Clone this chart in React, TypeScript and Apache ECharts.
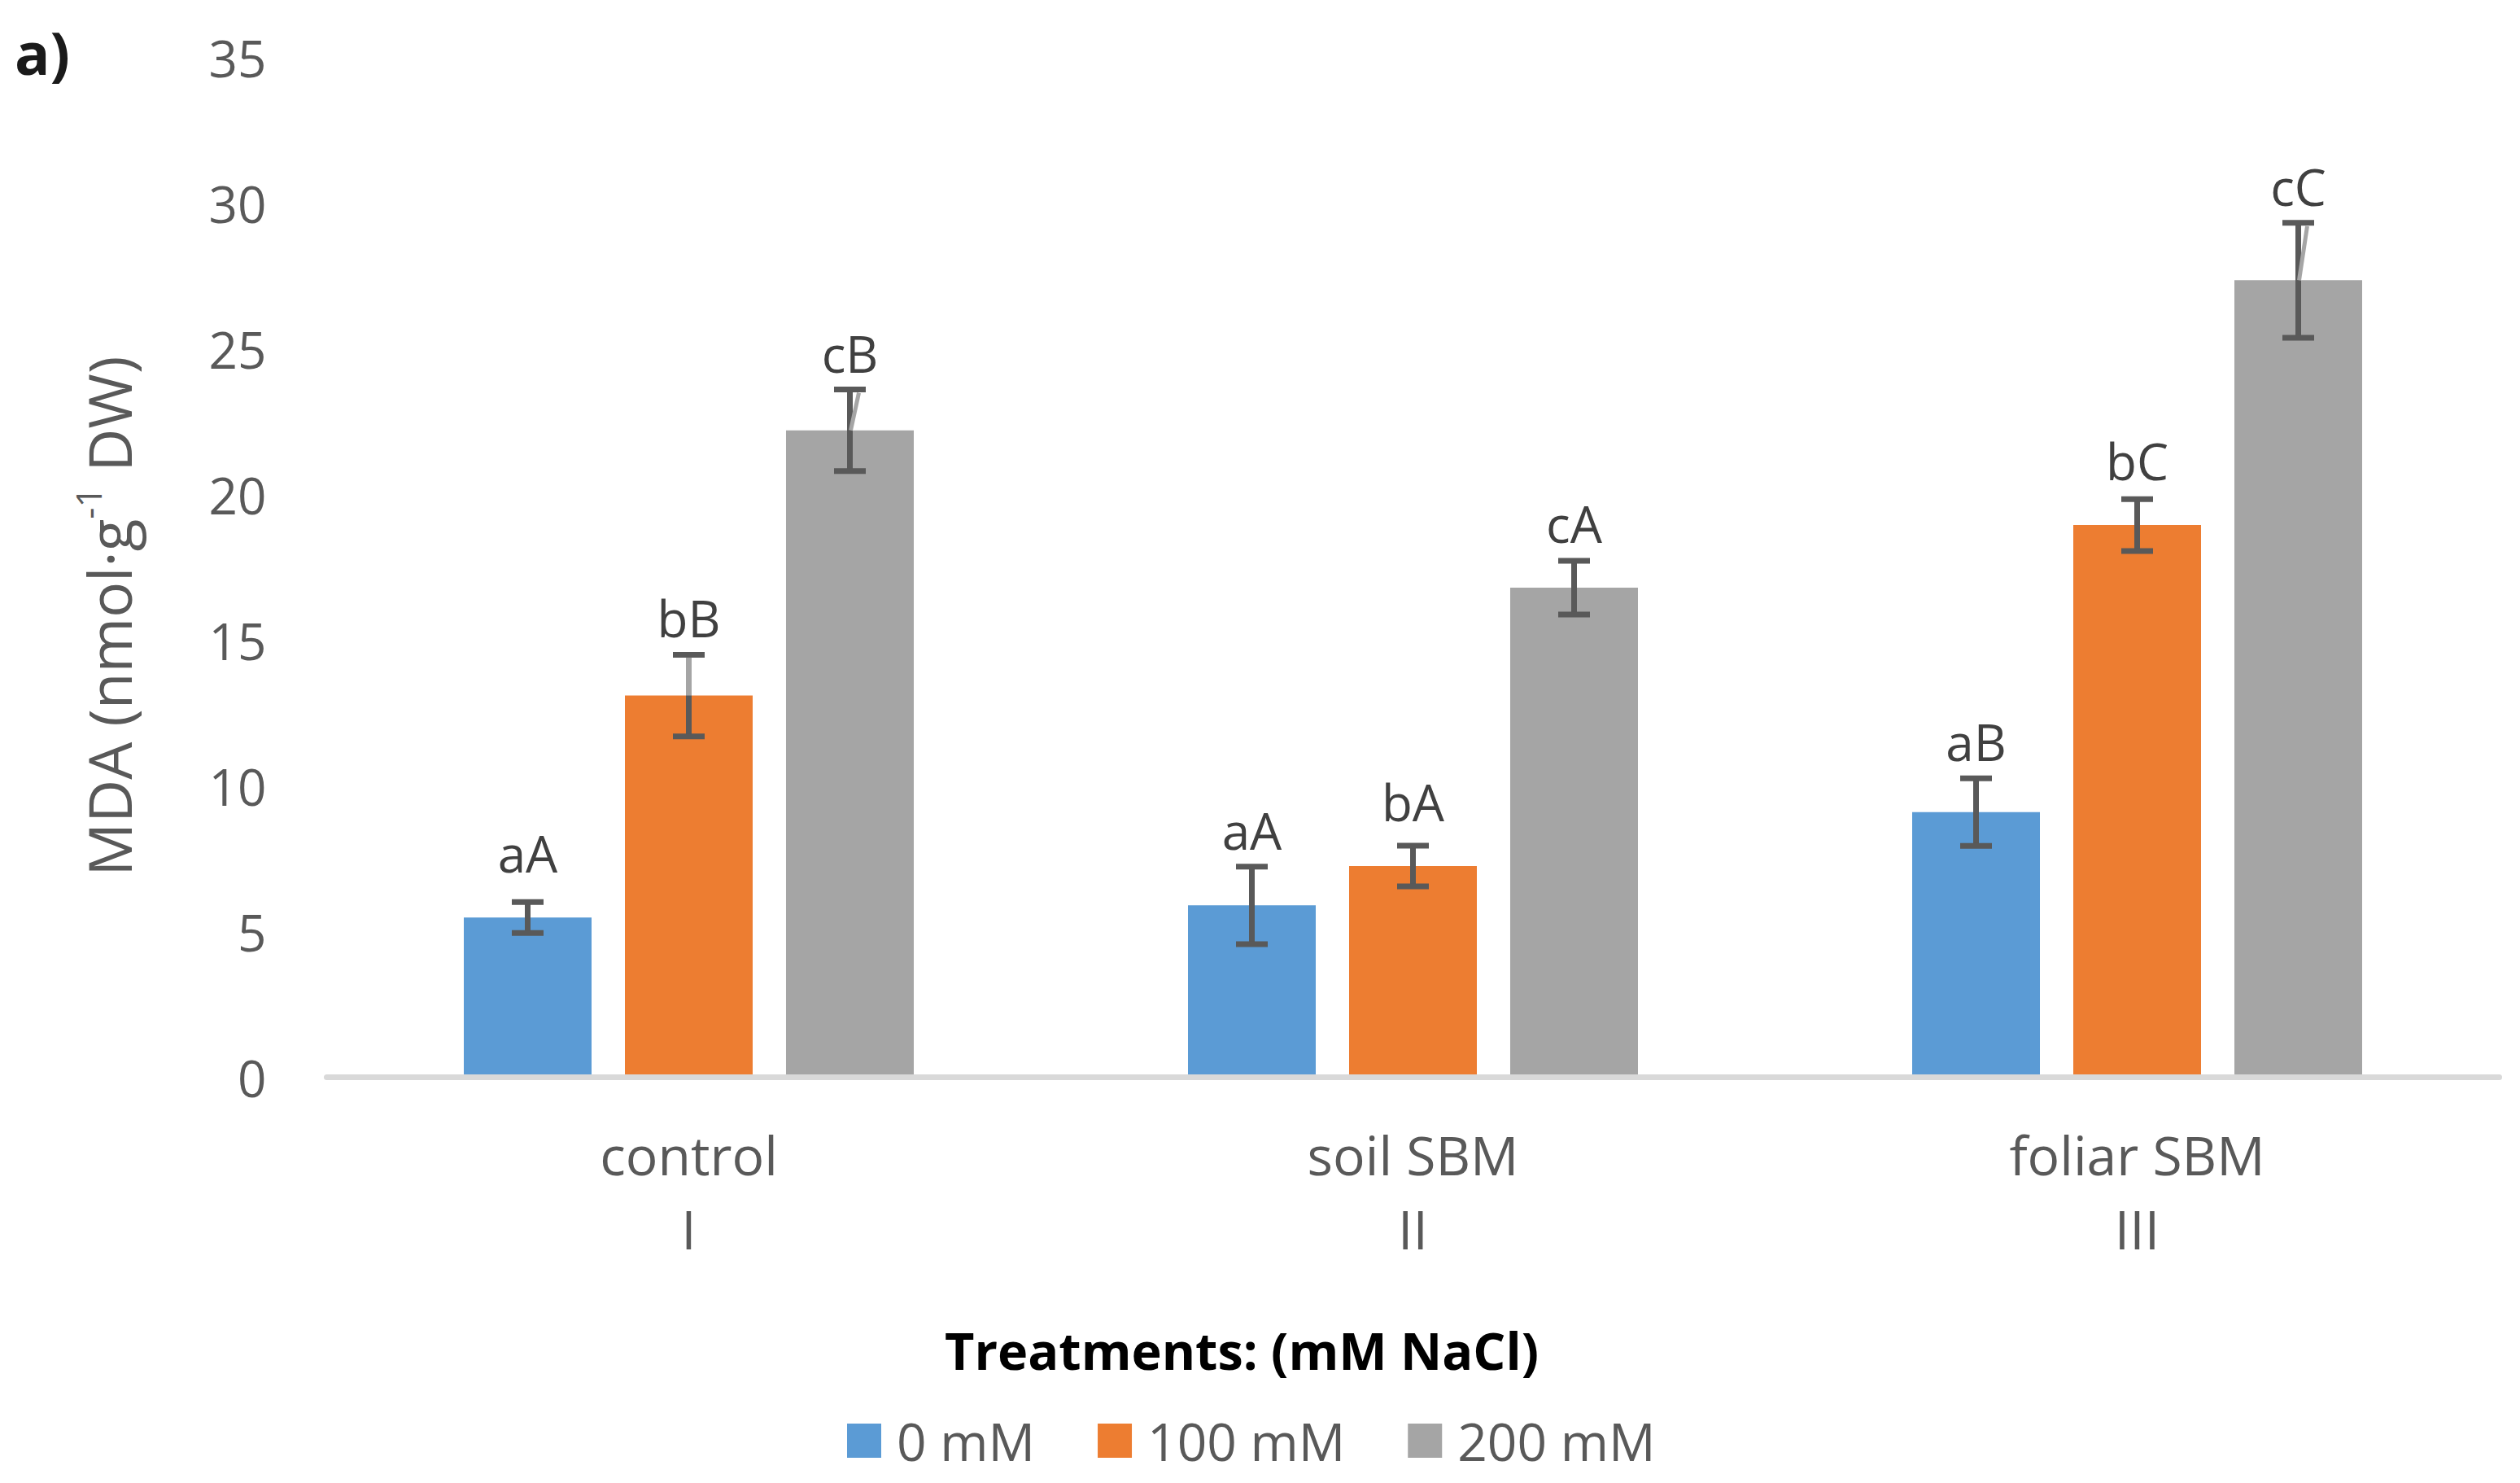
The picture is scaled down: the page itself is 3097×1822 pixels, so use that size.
import React, { useEffect, useRef } from "react";
import * as echarts from "echarts";

// ---- data ----
const categories = ["control\nI", "soil SBM\nII", "foliar SBM\nIII"];
const seriesNames = ["0 mM", "100 mM", "200 mM"];
const mda0 = [5.48, 5.9, 9.1];
const mda100 = [13.1, 7.25, 18.95];
const mda200 = [22.2, 16.8, 27.35];
const err0 = [0.53, 1.33, 1.16];
const err100 = [1.4, 0.7, 0.89];
const err200 = [1.4, 0.92, 1.97];
const letters0 = ["aA", "aA", "aB"];
const letters100 = ["bB", "bA", "bC"];
const letters200 = ["cB", "cA", "cC"];
const stemStyle0 = ["none", "none", "none"];
const stemStyle100 = ["light", "none", "none"];
const stemStyle200 = ["slant", "none", "slant"];
const yMin = 0;
const yMax = 35;
const yStep = 5;

// ---- styles ----
const COLORS = ["#5b9bd5", "#ed7d31", "#a5a5a5"];
const FONT = '"Open Sans", "Noto Sans", sans-serif';
const BAR_W = 157;
const BAR_GAP = 41;
const ERR_COLOR = "#595959";

const means = [mda0, mda100, mda200];
const errs = [err0, err100, err200];
const letters = [letters0, letters100, letters200];
const stemStyles = [stemStyle0, stemStyle100, stemStyle200];

function makeErrSeries(s: number) {
  const k = s - 1;
  return {
    type: "custom",
    name: "err" + s,
    z: 5,
    data: means[s].map((v, i) => [i, v, errs[s][i]]),
    encode: { x: 0, y: 1 },
    renderItem: (params: any, api: any) => {
      const i = api.value(0);
      const m = api.value(1);
      const e = api.value(2);
      const base = api.coord([i, m]);
      const cx = base[0] + k * (BAR_W + BAR_GAP);
      const yBar = base[1];
      const yTop = api.coord([i, m + e])[1];
      const yBot = api.coord([i, m - e])[1];
      const ls = { stroke: ERR_COLOR, lineWidth: 7 };
      const half = 19.5;
      const children: any[] = [
        { type: "line", shape: { x1: cx, y1: yTop, x2: cx, y2: yBot }, style: ls },
        { type: "line", shape: { x1: cx - half, y1: yTop, x2: cx + half, y2: yTop }, style: ls },
        { type: "line", shape: { x1: cx - half, y1: yBot, x2: cx + half, y2: yBot }, style: ls },
      ];
      const st = stemStyles[s][params.dataIndex];
      if (st === "light") {
        children.push({
          type: "line",
          shape: { x1: cx, y1: yTop + 3.5, x2: cx, y2: yBar },
          style: { stroke: "#a5a5a5", lineWidth: 7 },
        });
      } else if (st === "slant") {
        children.push({
          type: "line",
          shape: { x1: cx + 11, y1: yTop + 4, x2: cx + 1, y2: yBar },
          style: { stroke: "#a5a5a5", lineWidth: 5 },
        });
      }
      children.push({
        type: "text",
        x: cx,
        y: Math.min(yBar - 79, yTop - 45),
        style: {
          text: letters[s][params.dataIndex],
          fill: "#404040",
          fontSize: 62,
          fontFamily: FONT,
          align: "center",
          verticalAlign: "middle",
        },
      });
      return { type: "group", children };
    },
  };
}

export default function App() {
  const ref = useRef<HTMLDivElement>(null);
  useEffect(() => {
    if (!ref.current) return;
    const chart = echarts.init(ref.current, null, { renderer: "svg" });
    const barSeries = seriesNames.map((name, s) => ({
      type: "bar",
      name,
      data: means[s],
      barWidth: BAR_W,
      barGap: ((BAR_GAP / BAR_W) * 100).toFixed(2) + "%",
      itemStyle: { color: COLORS[s] },
      z: 2,
    }));
    chart.setOption({
      animation: false,
      backgroundColor: "#ffffff",
      textStyle: { fontFamily: FONT },
      grid: { left: 401.5, right: 25.5, top: 70.5, bottom: 498.5, containLabel: false },
      xAxis: {
        type: "category",
        data: categories,
        z: 10,
        axisLine: { show: true, lineStyle: { color: "#d9d9d9", width: 7 } },
        axisTick: { show: false },
        axisLabel: {
          fontSize: 66,
          color: "#595959",
          lineHeight: 91,
          margin: 49,
          interval: 0,
        },
      },
      yAxis: {
        type: "value",
        min: yMin,
        max: yMax,
        interval: yStep,
        axisLine: { show: false },
        axisTick: { show: false },
        splitLine: { show: false },
        axisLabel: { fontSize: 62, color: "#595959", margin: 74 },
      },
      legend: {
        data: seriesNames,
        left: 1036,
        top: 1733,
        icon: "rect",
        itemWidth: 42,
        itemHeight: 42,
        itemGap: 77,
        textStyle: { fontSize: 64, color: "#595959", padding: [0, 0, 0, 14] },
      },
      graphic: [
        {
          type: "text",
          x: 128,
          y: 757,
          rotation: Math.PI / 2,
          style: {
            text: "{a|MDA (nmol·g}{s|-1}{a| DW)}",
            align: "center",
            verticalAlign: "middle",
            rich: {
              a: { fontSize: 73, fontFamily: FONT, fill: "#595959", lineHeight: 84, verticalAlign: "bottom" },
              s: { fontSize: 44, fontFamily: FONT, fill: "#595959", lineHeight: 84, verticalAlign: "top" },
            },
          },
        },
        {
          type: "text",
          x: 1526,
          y: 1658,
          style: {
            text: "Treatments: (mM NaCl)",
            fontSize: 63,
            fontWeight: "bold",
            fontFamily: FONT,
            fill: "#000000",
            align: "center",
            verticalAlign: "middle",
          },
        },
        {
          type: "text",
          x: 18,
          y: 64,
          style: {
            text: "a)",
            fontSize: 72,
            fontWeight: "bold",
            fontFamily: FONT,
            fill: "#1a1a1a",
            align: "left",
            verticalAlign: "middle",
          },
        },
      ],
      series: [...barSeries, makeErrSeries(0), makeErrSeries(1), makeErrSeries(2)],
    });
    return () => chart.dispose();
  }, []);
  return (
    <div
      ref={ref}
      style={{ position: "absolute", left: 0, top: 0, width: 3097, height: 1822 }}
    />
  );
}
